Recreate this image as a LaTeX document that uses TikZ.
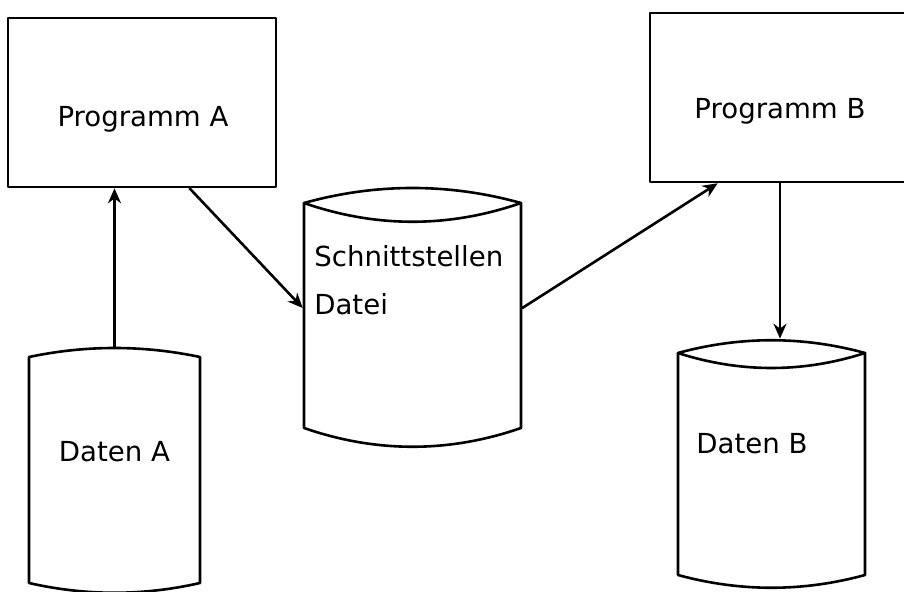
\documentclass[tikz,border=0pt]{standalone}
\usepackage{fontspec}
\setmainfont{DejaVu Sans}
\usetikzlibrary{arrows.meta}

\begin{document}
\begin{tikzpicture}[x=0.5pt,y=-0.5pt,>={Stealth[length=7.5pt,width=6.5pt]},line join=round,line cap=round,line width=1.3pt,font=\fontsize{13.8}{16}\selectfont,
		box/.style={draw,rectangle,inner sep=0pt},
		body/.style={rectangle,inner sep=0pt},
		txt/.style={anchor=base,inner sep=0pt}]
		\useasboundingbox (0,0) rectangle (904,592);
		\clip (0,0) rectangle (904,592);
		% Programme
		\node[box,minimum width=134pt,minimum height=84.5pt] (progA) at (142,102.5) {};
		\node[box,minimum width=130pt,minimum height=84.5pt] (progB) at (780,97.5) {};
		\node[txt] (progAtext) at (143,127) {Programm A};
		\node[txt] (progBtext) at (780,119) {Programm B};
		% Dateien
		\draw (29,357) .. controls (86,345) and (143,345) .. (200,357) -- (200,583) .. controls (143,596) and (86,596) .. (29,583) -- cycle;
		\draw (304,203) .. controls (376,183) and (449,183) .. (521,203) -- (521,428) .. controls (449,453) and (376,453) .. (304,428) -- cycle;
		\draw (304,203) .. controls (376,228) and (449,228) .. (521,203);
		\draw (678,353) .. controls (740,336) and (803,336) .. (865,353) -- (865,575) .. controls (803,592) and (740,592) .. (678,575) -- cycle;
		\draw (678,353) .. controls (740,373) and (803,373) .. (865,353);
		\node[body,minimum width=85.5pt,minimum height=117.5pt] (datA) at (114.5,465.5) {};
		\node[body,minimum width=108.5pt,minimum height=120pt] (schn) at (412.5,308) {};
		\node[body,minimum width=93.5pt,minimum height=117.5pt] (datB) at (771.5,457.5) {};
		\node[txt] (datAtext) at (114.5,462) {Daten A};
		\node[txt,anchor=base west] (schnText) at (313,267) {Schnittstellen};
		\node[txt,anchor=base west] (dateiText) at (313,315) {Datei};
		\node[txt] (datBtext) at (752,454) {Daten B};
		% Verbindungen
		\draw[->] (datA.north) -- (progA.south -| datA.north);
		\draw[->] (progA.-61) -- (schn.west);
		\draw[->] (schn.east) -- (progB.-126);
		\draw[->] (progB.south) -- (datB.north -| progB.south);
	\end{tikzpicture}
\end{document}
